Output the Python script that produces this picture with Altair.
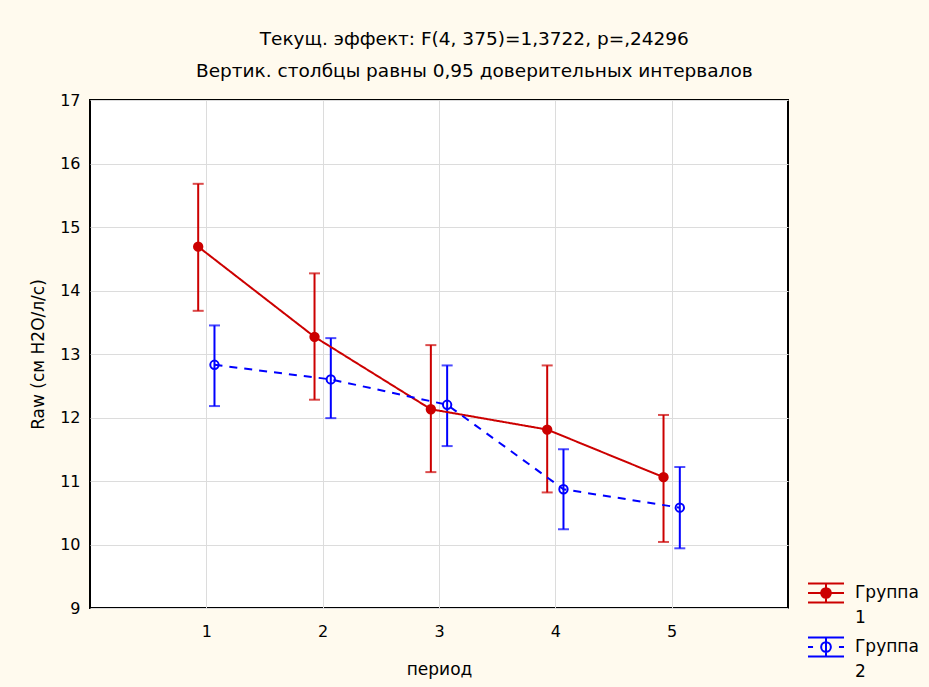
import altair as alt
import pandas as pd

# Means and 0.95 confidence limits of Raw by period for the two groups
periods = [1, 2, 3, 4, 5]
groups = ["Группа 1", "Группа 2"]

g1_mean = [14.69, 13.27, 12.13, 11.81, 11.06]
g1_low = [13.68, 12.28, 11.14, 10.82, 10.04]
g1_high = [15.68, 14.27, 13.14, 12.82, 12.04]

g2_mean = [12.83, 12.60, 12.20, 10.87, 10.58]
g2_low = [12.18, 11.99, 11.55, 10.24, 9.94]
g2_high = [13.45, 13.25, 12.82, 11.50, 11.22]

# small horizontal dodge so the two groups' bars do not overlap
dodge = {groups[0]: -0.07, groups[1]: 0.07}

rows = []
for g, m, lo, hi in [(groups[0], g1_mean, g1_low, g1_high),
                     (groups[1], g2_mean, g2_low, g2_high)]:
    for p, mv, lv, hv in zip(periods, m, lo, hi):
        rows.append({"period": p, "xpos": p + dodge[g], "group": g,
                     "mean": mv, "low": lv, "high": hv})
df = pd.DataFrame(rows)

RED = "#CC0000"
BLUE = "#0000FF"
FONT = "DejaVu Sans"

color_scale = alt.Scale(domain=groups, range=[RED, BLUE])
fill_scale = alt.Scale(domain=groups, range=[RED, "transparent"])
dash_scale = alt.Scale(domain=groups, range=[[1, 0], [8, 7]])

# legend glyphs: error bar with caps, centre line and point
glyph_1 = ("M-1,-0.53H1M-1,0.53H1M0,-0.53V0.53M-1,0H1"
           "M0.27,0A0.27,0.27 0 1,1 -0.27,0A0.27,0.27 0 1,1 0.27,0Z")
glyph_2 = ("M-1,-0.53H1M-1,0.53H1M0,-0.53V0.53M-1,0H-0.72M0.72,0H1"
           "M0.27,0A0.27,0.27 0 1,1 -0.27,0A0.27,0.27 0 1,1 0.27,0Z")
shape_scale = alt.Scale(domain=groups, range=[glyph_1, glyph_2])

x_enc = alt.X("xpos:Q", title="период",
              scale=alt.Scale(domain=[0, 6], nice=False, zero=False),
              axis=alt.Axis(values=periods, format="d", labelPadding=15,
                            titlePadding=22, ticks=False, domain=False,
                            labelFontSize=16, titleFontSize=17))
y_scale = alt.Scale(domain=[9, 17], nice=False, zero=False)
y_axis = alt.Axis(values=list(range(9, 18)), format="d", labelPadding=10,
                  titlePadding=12, ticks=False, domain=False,
                  labelFontSize=16, titleFontSize=17)

base = alt.Chart(df)

bars = base.mark_rule(strokeWidth=2).encode(
    x=x_enc,
    y=alt.Y("low:Q", scale=y_scale, axis=y_axis, title="Raw (см H2O/л/с)"),
    y2="high:Q",
    color=alt.Color("group:N", scale=color_scale, legend=None),
)

cap_low = base.mark_tick(orient="horizontal", size=11, thickness=2).encode(
    x="xpos:Q", y="low:Q",
    color=alt.Color("group:N", scale=color_scale, legend=None),
)
cap_high = base.mark_tick(orient="horizontal", size=11, thickness=2).encode(
    x="xpos:Q", y="high:Q",
    color=alt.Color("group:N", scale=color_scale, legend=None),
)

lines = base.mark_line(strokeWidth=2).encode(
    x="xpos:Q", y="mean:Q",
    color=alt.Color("group:N", scale=color_scale, legend=None),
    strokeDash=alt.StrokeDash("group:N", scale=dash_scale, legend=None),
    detail="group:N",
)

points = base.mark_point(filled=False, size=70, strokeWidth=2, opacity=1).encode(
    x="xpos:Q", y="mean:Q",
    color=alt.Color("group:N", scale=color_scale, legend=None),
    fill=alt.Fill("group:N", scale=fill_scale, legend=None),
)

legend_cfg = alt.Legend(
    title=None, orient="none", legendX=717, legendY=474,
    symbolSize=1296, symbolStrokeWidth=2, symbolOpacity=1,
    labelFontSize=17, labelFont=FONT, labelColor="#000000",
    labelLimit=200, labelOffset=10, rowPadding=2,
    labelExpr="split(datum.label, ' ')",
)
legend_layer = base.mark_point(filled=False, opacity=0).encode(
    x="xpos:Q", y="mean:Q",
    color=alt.Color("group:N", scale=color_scale, legend=legend_cfg),
    fill=alt.Fill("group:N", scale=fill_scale, legend=legend_cfg),
    shape=alt.Shape("group:N", scale=shape_scale, legend=legend_cfg),
)

chart = alt.layer(bars, cap_low, cap_high, lines, points, legend_layer).resolve_legend(
    color="independent", fill="independent", shape="independent",
).properties(
    width=698,
    height=508,
    padding={"left": 90, "top": 100, "right": 141, "bottom": 79},
    autosize=alt.AutoSizeParams(type="none"),
    background="#FFFAEE",
    title=alt.TitleParams(
        text=["Текущ. эффект: F(4, 375)=1,3722, p=,24296",
              "Вертик. столбцы равны 0,95 доверительных интервалов"],
        font=FONT, fontSize=18.5, fontWeight="normal", color="#000000",
        lineHeight=32, anchor="middle", frame="bounds", offset=12,
    ),
).configure_view(
    fill="#FFFFFF", stroke="#000000", strokeWidth=2,
).configure_axis(
    labelFont=FONT, titleFont=FONT, labelColor="#000000", titleColor="#000000",
    titleFontWeight="normal", gridColor="#DCDCDC", gridWidth=1,
)
# line spacing for the two-line legend labels
chart.config.style = {"guide-label": {"lineHeight": 25}}

chart.save("out.html", embed_options={"renderer": "svg", "actions": False})
